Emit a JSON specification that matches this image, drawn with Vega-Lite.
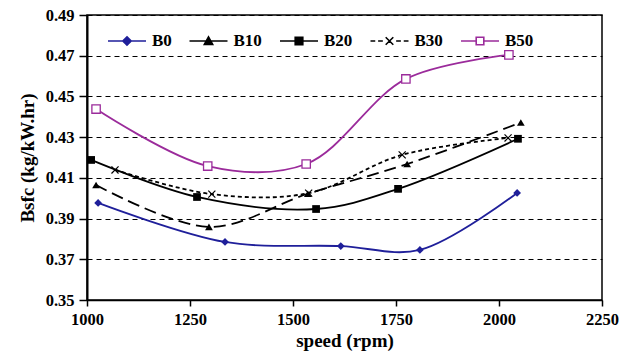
{
  "$schema": "https://vega.github.io/schema/vega-lite/v6.json",
  "width": 515,
  "height": 285,
  "autosize": "none",
  "padding": {"left": 87, "top": 15, "right": 28, "bottom": 59},
  "background": "white",
  "config": {
    "view": {"stroke": "black", "strokeWidth": 1.5},
    "font": "Liberation Serif",
    "axis": {
      "labelFont": "Liberation Serif", "labelFontWeight": "bold", "labelFontSize": 16.5, "labelColor": "black",
      "titleFont": "Liberation Serif", "titleFontWeight": "bold", "titleFontSize": 19, "titleColor": "black",
      "domainColor": "black", "domainWidth": 2, "tickColor": "black", "tickWidth": 1.5, "labelFlush": false, "labelOverlap": false
    }
  },
  "data": {
    "values": [
      {"series": "B0", "speed": 1027, "bsfc": 0.3977},
      {"series": "B0", "speed": 1335, "bsfc": 0.3785},
      {"series": "B0", "speed": 1616, "bsfc": 0.3765},
      {"series": "B0", "speed": 1808, "bsfc": 0.3746},
      {"series": "B0", "speed": 2044, "bsfc": 0.4026},
      {"series": "B10", "speed": 1022, "bsfc": 0.4065},
      {"series": "B10", "speed": 1296, "bsfc": 0.3859},
      {"series": "B10", "speed": 1536, "bsfc": 0.4022},
      {"series": "B10", "speed": 1777, "bsfc": 0.4168},
      {"series": "B10", "speed": 2053, "bsfc": 0.4372},
      {"series": "B20", "speed": 1010, "bsfc": 0.4188},
      {"series": "B20", "speed": 1267, "bsfc": 0.4006},
      {"series": "B20", "speed": 1556, "bsfc": 0.3947},
      {"series": "B20", "speed": 1755, "bsfc": 0.4046},
      {"series": "B20", "speed": 2046, "bsfc": 0.4292},
      {"series": "B30", "speed": 1068, "bsfc": 0.4139},
      {"series": "B30", "speed": 1303, "bsfc": 0.4020},
      {"series": "B30", "speed": 1538, "bsfc": 0.4025},
      {"series": "B30", "speed": 1765, "bsfc": 0.4213},
      {"series": "B30", "speed": 2022, "bsfc": 0.4296},
      {"series": "B50", "speed": 1022, "bsfc": 0.4438},
      {"series": "B50", "speed": 1293, "bsfc": 0.4158},
      {"series": "B50", "speed": 1532, "bsfc": 0.4168},
      {"series": "B50", "speed": 1774, "bsfc": 0.4586},
      {"series": "B50", "speed": 2024, "bsfc": 0.4704}
    ]
  },
  "encoding": {
    "x": {
      "field": "speed", "type": "quantitative",
      "scale": {"domain": [1000, 2250], "nice": false, "zero": false},
      "axis": {"values": [1000, 1250, 1500, 1750, 2000, 2250], "format": "d", "grid": false, "title": "speed (rpm)", "tickSize": 6, "labelPadding": 5, "titlePadding": 4, "domainWidth": 1.5}
    },
    "y": {
      "field": "bsfc", "type": "quantitative",
      "scale": {"domain": [0.35, 0.49], "nice": false, "zero": false},
      "axis": {"values": [0.35, 0.37, 0.39, 0.41, 0.43, 0.45, 0.47, 0.49], "format": ".2f", "grid": true, "gridColor": "black", "gridDash": [5, 4], "gridWidth": 1, "gridOpacity": 1, "title": "Bsfc (kg/kW.hr)", "tickSize": 8, "titlePadding": 8, "labelPadding": 5}
    }
  },
  "layer": [
    {
      "transform": [{"filter": "datum.series === 'B0' || datum.series === 'B20' || datum.series === 'B50'"}],
      "mark": {"type": "line", "interpolate": "catmull-rom", "strokeWidth": 1.8},
      "encoding": {
        "color": {
          "field": "series", "type": "nominal",
          "scale": {"domain": ["B0", "B10", "B20", "B30", "B50"], "range": ["#1f1f9a", "#000000", "#000000", "#000000", "#9b2b9b"]},
          "legend": {
            "title": null, "orient": "none", "direction": "horizontal", "columns": 5,
            "legendX": 20, "legendY": 6,
            "labelFont": "Liberation Serif", "labelFontWeight": "bold", "labelFontSize": 17, "labelColor": "black",
            "labelOffset": 5, "columnPadding": 13.5,
            "symbolSize": 1444, "symbolStrokeWidth": 1.6,
            "encode": {
              "symbols": {
                "update": {
                  "shape": {"signal": "datum.value === 'B0' ? 'M-1,0H1M0,-0.22L0.22,0L0,0.22L-0.22,0Z' : datum.value === 'B10' ? 'M-1,0H1M0,-0.22L0.22,0.18L-0.22,0.18Z' : datum.value === 'B20' ? 'M-1,0H1M-0.2,-0.2H0.2V0.2H-0.2Z' : datum.value === 'B30' ? 'M-1,0H-0.75M-0.6,0H-0.35M0.35,0H0.6M0.75,0H1M-0.2,-0.2L0.2,0.2M-0.2,0.2L0.2,-0.2' : 'M-1,0H-0.2M0.2,0H1M-0.2,-0.2H0.2V0.2H-0.2Z'"},
                  "fill": {"signal": "datum.value === 'B0' ? '#1f1f9a' : datum.value === 'B50' ? 'white' : datum.value === 'B30' ? 'transparent' : 'black'"}
                }
              }
            }
          }
        },
        "detail": {"field": "series", "type": "nominal"}
      }
    },
    {
      "transform": [{"filter": "datum.series === 'B10'"}],
      "mark": {"type": "line", "interpolate": "catmull-rom", "strokeWidth": 1.8, "color": "#000000", "strokeDash": [12, 6]},
      "encoding": {}
    },
    {
      "transform": [{"filter": "datum.series === 'B30'"}],
      "mark": {"type": "line", "interpolate": "catmull-rom", "strokeWidth": 1.8, "color": "#000000", "strokeDash": [4, 3]},
      "encoding": {}
    },
    {
      "transform": [{"filter": "datum.series === 'B0'"}],
      "mark": {"type": "point", "shape": "diamond", "size": 60, "filled": true, "color": "#1f1f9a", "opacity": 1}
    },
    {
      "transform": [{"filter": "datum.series === 'B10'"}],
      "mark": {"type": "point", "shape": "triangle-up", "size": 60, "filled": true, "color": "#000000", "opacity": 1}
    },
    {
      "transform": [{"filter": "datum.series === 'B20'"}],
      "mark": {"type": "point", "shape": "square", "size": 60, "filled": true, "color": "#000000", "opacity": 1}
    },
    {
      "transform": [{"filter": "datum.series === 'B30'"}],
      "mark": {"type": "point", "shape": "M-1,-1L1,1M-1,1L1,-1", "size": 50, "filled": false, "stroke": "#000000", "strokeWidth": 1.2, "opacity": 1}
    },
    {
      "transform": [{"filter": "datum.series === 'B50'"}],
      "mark": {"type": "point", "shape": "square", "size": 70, "filled": true, "fill": "white", "stroke": "#9b2b9b", "strokeWidth": 1.3, "opacity": 1}
    }
  ]
}
